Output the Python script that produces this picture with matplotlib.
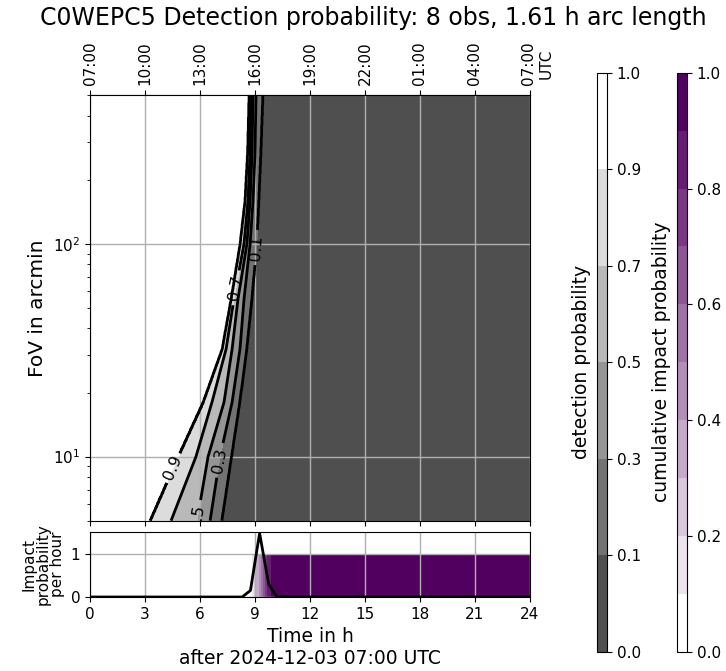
import numpy as np
import matplotlib
matplotlib.use("Agg")
from matplotlib import pyplot as plt
from matplotlib.colors import ListedColormap, LinearSegmentedColormap
from matplotlib.transforms import ScaledTranslation

# field of view rows (arcmin) and times (h) where detection prob. crosses each level
fov = [5, 10, 18, 32, 55, 100, 160, 270, 500]
det_levels = [0.9, 0.7, 0.5, 0.3, 0.1]
t_cross = {
    0.9: [3.27, 4.80, 6.16, 7.20, 7.69, 8.18, 8.45, 8.59, 8.67],
    0.7: [4.42, 5.78, 6.65, 7.42, 7.85, 8.40, 8.62, 8.73, 8.78],
    0.5: [5.84, 6.44, 7.31, 7.75, 8.07, 8.56, 8.73, 8.84, 8.89],
    0.3: [6.55, 7.09, 7.75, 8.18, 8.40, 8.73, 8.89, 9.00, 9.05],
    0.1: [7.20, 7.73, 8.18, 8.56, 8.84, 9.11, 9.22, 9.33, 9.44],
}

# impact probability per hour
t_imp = [0, 8.3, 8.75, 9.25, 9.75, 10.2, 24]
rate_imp = [0, 0, 0.15, 1.47, 0.29, 0, 0]

top_labels = ["07:00", "10:00", "13:00", "16:00", "19:00", "22:00",
              "01:00", "04:00", "07:00\nUTC"]
xticks = [0, 3, 6, 9, 12, 15, 18, 21, 24]

# detection-probability grid: crossing curves joined by straight pieces in log(FoV)
t_grid = np.linspace(0, 24, 1201)
f_grid = np.geomspace(fov[0], fov[-1], 300)
Z = []
for f in f_grid:
    xp = [np.interp(np.log10(f), np.log10(fov), t_cross[l]) for l in det_levels]
    Z.append(np.interp(t_grid, xp, det_levels, left=1.0, right=0.0))
Z = np.array(Z)

gray_cmap = ListedColormap(["#4f4f4f", "#727272", "#959595", "#b9b9b9", "#dcdcdc", "#ffffff"])
purple_lin = LinearSegmentedColormap.from_list("imp", ["#ffffff", "#52005f"])
purple_cmap = ListedColormap(purple_lin(np.linspace(0, 1, 10)))

fig = plt.figure(figsize=(7.26, 6.71), dpi=100)
ax = fig.add_axes([0.124, 0.224, 0.606, 0.6344])
ax2 = fig.add_axes([0.124, 0.1103, 0.606, 0.0969])
cax1 = fig.add_axes([0.8223, 0.0289, 0.0138, 0.8626])
cax2 = fig.add_axes([0.9325, 0.0289, 0.0138, 0.8626])

# scale first so the contour labels are cut in the right place
ax.set_yscale("log")
ax.set_xlim(0, 24)
ax.set_ylim(5, 500)

cf = ax.contourf(t_grid, f_grid, Z, levels=[0, 0.1, 0.3, 0.5, 0.7, 0.9, 1.0], cmap=gray_cmap)
cs = ax.contour(t_grid, f_grid, Z, levels=[0.1, 0.3, 0.5, 0.7, 0.9], colors="black", linewidths=2)
lbls = ax.clabel(cs, fmt="%.1f", fontsize=11.5,
                 manual=[(4.47, 8.9), (5.3, 5.3), (7.1, 9.6), (8.0, 62), (9.1, 96)])
for t in lbls:
    t.set_clip_on(True)

ax.set_xticks(xticks)
ax.tick_params(labelbottom=False, labelsize=11)
ax.grid(True, color="#b0b0b0", linewidth=1)
ax.set_ylabel("FoV in arcmin", fontsize=14.5)

sec = ax.secondary_xaxis("top")
sec.set_xticks(xticks, labels=top_labels, rotation=90, fontsize=11)
last = sec.get_xticklabels()[-1]
last.set_transform(last.get_transform() + ScaledTranslation(0.07, 0, fig.dpi_scale_trans))

fig.text(0.514, 0.973, "C0WEPC5 Detection probability: 8 obs, 1.61 h arc length",
         fontsize=17, ha="center", va="center")

# cumulative impact probability
t_imp = np.array(t_imp)
rate_imp = np.array(rate_imp)
cum = np.concatenate([[0], np.cumsum(0.5 * (rate_imp[1:] + rate_imp[:-1]) * np.diff(t_imp))])
cf2 = ax2.contourf(t_imp, [0, 1], np.vstack([cum, cum]), levels=np.linspace(0, 1, 11),
                   cmap=purple_cmap)
ax2.plot(t_imp, rate_imp, color="black", linewidth=2)
ax2.set_xlim(0, 24)
ax2.set_ylim(0, 1.5)
ax2.set_xticks(xticks)
ax2.set_yticks([0, 1])
ax2.tick_params(labelsize=11)
ax2.grid(True, color="#b0b0b0", linewidth=1)
ax2.set_ylabel("Impact\nprobability\nper hour", fontsize=11, linespacing=0.95)
ax2.set_xlabel("Time in h\nafter 2024-12-03 07:00 UTC", fontsize=13.5)

cb1 = fig.colorbar(cf, cax=cax1)
cb1.set_label("detection probability", fontsize=13.5)
cax1.yaxis.set_label_position("left")
cb1.ax.tick_params(labelsize=11)

cb2 = fig.colorbar(cf2, cax=cax2, ticks=[0, 0.2, 0.4, 0.6, 0.8, 1.0])
cb2.set_label("cumulative impact probability", fontsize=13.5)
cax2.yaxis.set_label_position("left")
cb2.ax.tick_params(labelsize=11)

plt.savefig("out.png", dpi=100)
